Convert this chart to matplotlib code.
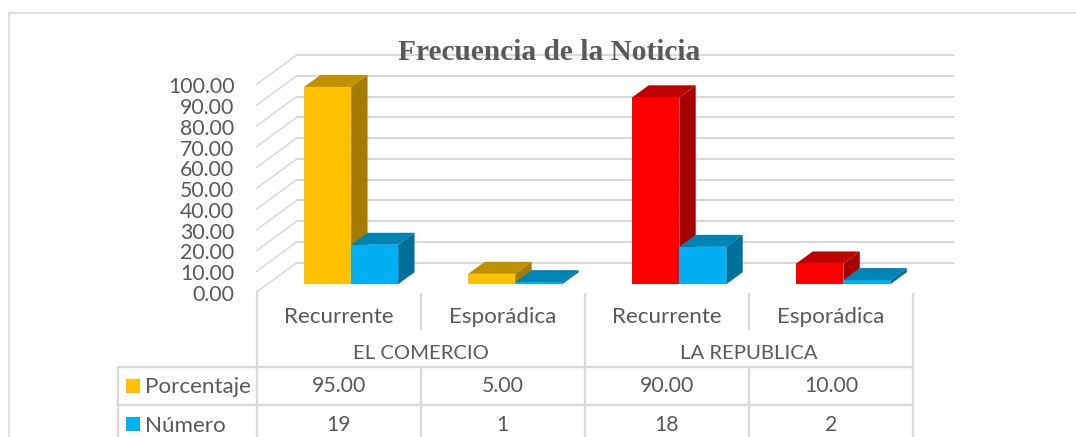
import matplotlib
matplotlib.use("Agg")
import matplotlib.pyplot as plt
from matplotlib.patches import Polygon, Rectangle
from matplotlib.transforms import Affine2D, ScaledTranslation, blended_transform_factory

W, H = 1076, 437

groups = ["EL COMERCIO", "LA REPUBLICA"]
categories = ["Recurrente", "Esporádica", "Recurrente", "Esporádica"]
porcentaje = [95.00, 5.00, 90.00, 10.00]
numero = [19, 1, 18, 2]
y_ticks = [0, 10, 20, 30, 40, 50, 60, 70, 80, 90, 100]

GRID = "#D9D9D9"
TEXT = "#595959"
GOLD = ("#FFC000", "#BF9000", "#A67C00")
BLUE = ("#00B0F0", "#0084B4", "#00709A")
RED = ("#FF0000", "#BF0000", "#A60000")
porcentaje_colors = [GOLD, GOLD, RED, RED]
numero_colors = [BLUE] * 4

FONT = "Lato"
plt.rcParams["font.family"] = FONT

fig = plt.figure(figsize=(W / 100, H / 100), dpi=100, facecolor="white")
L, R, Y0, Y100 = 256.7, 913.0, 292.0, 84.3
ax = fig.add_axes([L / W, 1 - Y0 / H, (R - L) / W, (Y0 - Y100) / H])
ax.set_xlim(0, 4)
ax.set_ylim(0, 100)
ax.patch.set_visible(False)
for s in ax.spines.values():
    s.set_visible(False)
ax.set_xticks([])
ax.set_yticks(y_ticks)
ax.set_yticklabels([f"{v:.2f}" for v in y_ticks], fontsize=15.3, color=TEXT)
ax.tick_params(axis="y", length=0, pad=16)
for lab in ax.get_yticklabels():
    lab.set_transform(lab.get_transform() + ScaledTranslation(0, -1 / 100, fig.dpi_scale_trans))

pix = Affine2D().scale(1 / W, -1 / H).translate(0, 1) + fig.transFigure
xpix = blended_transform_factory(ax.transData, pix)

px_x = (R - L) / 4
px_y = (Y0 - Y100) / 100
DX, DY = 40 / px_x, 29.3 / px_y


def depth(x, y, d):
    return (x + d * DX, y + d * DY)


# walls
for v in y_ticks:
    ax.plot([4 + DX, DX], [v + DY, v + DY], color=GRID, lw=1.5, clip_on=False, zorder=1)
    ax.plot([DX, 0], [v + DY, v], color=GRID, lw=1.1, clip_on=False, zorder=1)

# bars
BW = 47.0 / px_x
D0, D1 = 0.265, 0.675
SHIFT = 1.8 / px_x


def bar3d(x0, x1, v, cols, z):
    front, top, side = cols
    a = depth(x0, 0, D0)
    b = depth(x1, 0, D0)
    c = depth(x1, v, D0)
    e = depth(x0, v, D0)
    ax.add_patch(Polygon([a, b, c, e], fc=front, ec="none", zorder=z + 0.2, clip_on=False))
    ax.add_patch(Polygon([e, c, depth(x1, v, D1), depth(x0, v, D1)], fc=top, ec="none", zorder=z, clip_on=False))
    ax.add_patch(Polygon([b, c, depth(x1, v, D1), depth(x1, 0, D1)], fc=side, ec="none", zorder=z + 0.1, clip_on=False))


for i in range(len(categories)):
    c = i + 0.5 + SHIFT
    bar3d(c - BW, c, porcentaje[i], porcentaje_colors[i], 2 + i)
    bar3d(c, c + BW, numero[i], numero_colors[i], 2.5 + i)

# outer frame
fig.add_artist(plt.Line2D([9, 9, W], [H, 13, 13], transform=pix, color="#DEDEDE", lw=1.4))

# data table
LEG_X = 117.7
T0, T1, T2, T3, T4 = 293, 330, 367.3, 405.3, H


def line(xs, ys, tr=xpix, lw=1.7):
    ax.plot(xs, ys, transform=tr, color=GRID, lw=lw, clip_on=False, zorder=1, solid_capstyle="butt")


for i in range(5):
    line([i, i], [T0, T1])
    line([i, i], [T2, T4])
for i in (0, 2, 4):
    line([i, i], [T1, T2])
line([LEG_X, LEG_X, R], [T4, T2, T2], pix)
line([LEG_X, R], [T3, T3], pix)

FS_LABEL = 16.1
FS_NUM = 15.3
for i, c in enumerate(categories):
    ax.text(i + 0.5, 317, c, transform=xpix, ha="center", va="center", fontsize=FS_LABEL, color=TEXT)
    ax.text(i + 0.5, 386.5, f"{porcentaje[i]:.2f}", transform=xpix, ha="center", va="center", fontsize=FS_NUM, color=TEXT)
    ax.text(i + 0.5, 425, f"{numero[i]}", transform=xpix, ha="center", va="center", fontsize=FS_NUM, color=TEXT)
for j, g in enumerate(groups):
    ax.text(2 * j + 1, 353.5, g, transform=xpix, ha="center", va="center", fontsize=14.6, color=TEXT)

for name, col, yc in (("Porcentaje", GOLD[0], 385.5), ("Número", BLUE[0], 424)):
    fig.add_artist(Rectangle((126, yc - 7), 14, 14, transform=pix, fc=col, ec="none"))
    fig.text(145 / W, 1 - (yc + 1.5) / H, name, ha="left", va="center", fontsize=FS_LABEL, color=TEXT)

fig.text(549.5 / W, 1 - 52.5 / H, "Frecuencia de la Noticia", ha="center", va="center",
         fontsize=21.2, fontweight="bold", family="Liberation Serif", color=TEXT, zorder=20)

fig.savefig("out.png", dpi=100)
